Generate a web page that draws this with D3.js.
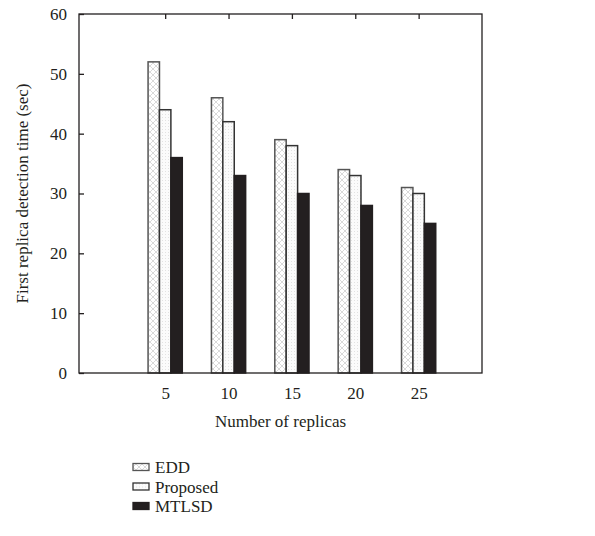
<!DOCTYPE html>
<html>
<head>
<meta charset="utf-8">
<script src="https://cdn.jsdelivr.net/npm/d3@7"></script>
<style>
  body { margin: 0; background: #fff; }
  text { font-family: "Liberation Serif", "DejaVu Serif", serif; fill: #231f20; }
</style>
</head>
<body>
<svg width="595" height="536"></svg>
<script>
const replicas = [5, 10, 15, 20, 25];
const edd = [52, 46, 39, 34, 31];
const proposed = [44, 42, 38, 33, 30];
const mtlsd = [36, 33, 30, 28, 25];
const seriesNames = ["EDD", "Proposed", "MTLSD"];
const yTicks = [0, 10, 20, 30, 40, 50, 60];

const svg = d3.select("svg");
const margin = { left: 79, top: 14, right: 113, bottom: 163 };
const W = 595, H = 536;

// patterns
const defs = svg.append("defs");
const hatch = defs.append("pattern").attr("id", "hatch")
  .attr("patternUnits", "userSpaceOnUse").attr("width", 6).attr("height", 6);
hatch.append("rect").attr("width", 6).attr("height", 6).attr("fill", "#fff");
hatch.append("path").attr("d", "M0,0L6,6M6,0L0,6")
  .attr("stroke", "#c8c8c8").attr("stroke-width", 0.7);
const dots = defs.append("pattern").attr("id", "dots")
  .attr("patternUnits", "userSpaceOnUse").attr("width", 3).attr("height", 3);
dots.append("rect").attr("width", 3).attr("height", 3).attr("fill", "#fbfbfb");
dots.append("rect").attr("width", 1).attr("height", 1).attr("fill", "#e2e2e2");

const fills = ["url(#hatch)", "url(#dots)", "#231f20"];
const strokes = ["#555", "#333", "#231f20"];

const x = d3.scaleLinear().domain([-1.8, 30]).range([margin.left, W - margin.right]);
const y = d3.scaleLinear().domain([0, 60]).range([H - margin.bottom, margin.top]);
const bw = x(0.9) - x(0);

const table = replicas.map((r, i) => ({ r, vals: [edd[i], proposed[i], mtlsd[i]] }));

const g = svg.append("g");
table.forEach(d => {
  d.vals.forEach((v, k) => {
    g.append("rect")
      .attr("x", x(d.r) + (k - 1.5) * bw)
      .attr("y", y(v))
      .attr("width", bw)
      .attr("height", y(0) - y(v))
      .attr("fill", fills[k])
      .attr("stroke", strokes[k])
      .attr("stroke-width", 1.5);
  });
});

// frame
svg.append("rect")
  .attr("x", x.range()[0]).attr("y", y.range()[1])
  .attr("width", x.range()[1] - x.range()[0])
  .attr("height", y.range()[0] - y.range()[1])
  .attr("fill", "none").attr("stroke", "#231f20").attr("stroke-width", 1.3);

// y axis
const yAxis = svg.append("g")
  .attr("transform", `translate(${margin.left},0)`)
  .call(d3.axisLeft(y).tickValues(yTicks).tickSize(-5).tickPadding(12));
yAxis.select(".domain").remove();
yAxis.selectAll("text").attr("font-size", 17);

// x axis
const xAxis = svg.append("g")
  .attr("transform", `translate(0,${H - margin.bottom})`)
  .call(d3.axisBottom(x).tickValues(replicas).tickSize(0).tickPadding(14));
xAxis.select(".domain").remove();
xAxis.selectAll("text").attr("font-size", 17);

// top mirror ticks
const xTop = svg.append("g")
  .attr("transform", `translate(0,${margin.top})`)
  .call(d3.axisTop(x).tickValues(replicas).tickSize(-5).tickFormat(""));
xTop.select(".domain").remove();

svg.selectAll(".tick line").attr("stroke", "#231f20").attr("stroke-width", 1.3);

// axis titles
svg.append("text")
  .attr("x", (x.range()[0] + x.range()[1]) / 2).attr("y", 427)
  .attr("text-anchor", "middle").attr("font-size", 17)
  .text("Number of replicas");
svg.append("text")
  .attr("transform", `translate(28,${(y.range()[0] + y.range()[1]) / 2}) rotate(-90)`)
  .attr("text-anchor", "middle").attr("font-size", 17)
  .text("First replica detection time (sec)");

// legend
const lg = svg.append("g").attr("transform", "translate(133,467)");
seriesNames.forEach((name, k) => {
  const row = lg.append("g").attr("transform", `translate(0,${k * 19.5})`);
  row.append("rect").attr("x", 0).attr("y", -3.5).attr("width", 16).attr("height", 7)
    .attr("fill", fills[k]).attr("stroke", strokes[k]).attr("stroke-width", 1.3);
  row.append("text").attr("x", 22).attr("y", 6).attr("font-size", 17).text(name);
});
</script>
</body>
</html>
